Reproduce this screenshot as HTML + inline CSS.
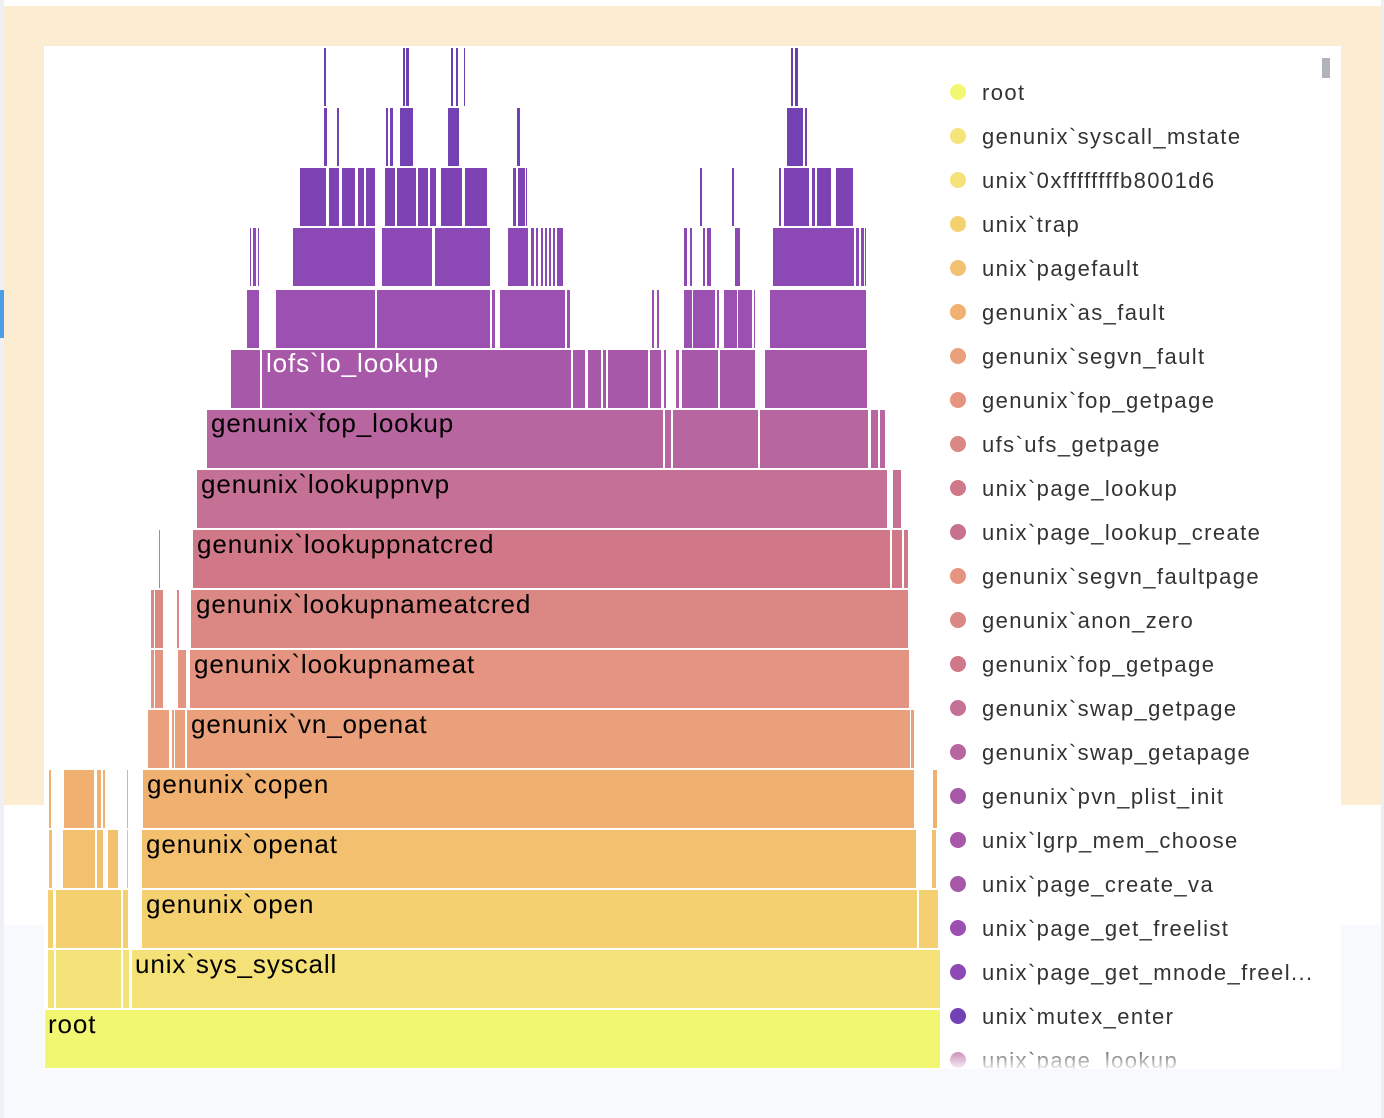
<!DOCTYPE html>
<html><head><meta charset="utf-8"><style>
html,body{margin:0;padding:0;width:1384px;height:1118px;overflow:hidden;background:#f8f9fc;font-family:"Liberation Sans",sans-serif}
</style></head><body>
<svg width="1384" height="1118" xmlns="http://www.w3.org/2000/svg" style="position:absolute;left:0;top:0">
<rect x="0" y="0" width="1384" height="1118" fill="#f8f9fc"/>
<rect x="4" y="0" width="1377" height="925" fill="#ffffff"/>
<rect x="4" y="6" width="1377" height="799" fill="#fcecd2"/>
<rect x="0" y="0" width="4" height="1118" fill="#eef0f6"/>
<rect x="0" y="290" width="4" height="48" fill="#4a9fe8"/>
<rect x="1381" y="0" width="3" height="1118" fill="#eceef2"/>
<rect x="44" y="46" width="1297" height="1023" fill="#ffffff"/>
<g stroke="none">
<g transform="translate(0,1010)" fill="#f2f772"><rect x="45" y="0" width="895" height="58"/></g>
<g transform="translate(0,950)" fill="#f4e177"><rect x="48" width="6" height="58"/><rect x="56" width="65" height="58"/><rect x="123" width="6" height="58"/><rect x="132" width="808" height="58"/></g>
<g transform="translate(0,890)" fill="#f5d070"><rect x="48" width="5" height="58"/><rect x="56" width="65" height="58"/><rect x="123" width="5" height="58"/><rect x="142" width="775" height="58"/><rect x="919" width="19" height="58"/></g>
<g transform="translate(0,830)" fill="#f3c070"><rect x="49" width="3" height="58"/><rect x="63" width="32" height="58"/><rect x="97" width="6" height="58"/><rect x="108" width="10" height="58"/><rect x="127" width="1" height="58"/><rect x="142" width="774" height="58"/><rect x="932" width="4" height="58"/></g>
<g transform="translate(0,770)" fill="#efb070"><rect x="49" width="2" height="58"/><rect x="64" width="30" height="58"/><rect x="97" width="4" height="58"/><rect x="103" width="2" height="58"/><rect x="127" width="1" height="58"/><rect x="143" width="771" height="58"/><rect x="933" width="4" height="58"/></g>
<g transform="translate(0,710)" fill="#eaa07a"><rect x="148" width="21" height="58"/><rect x="172" width="2" height="58"/><rect x="175" width="10" height="58"/><rect x="187" width="723" height="58"/><rect x="911" width="3" height="58"/></g>
<g transform="translate(0,650)" fill="#e49480"><rect x="151" width="3" height="58"/><rect x="155" width="8" height="58"/><rect x="178" width="8" height="58"/><rect x="190" width="719" height="58"/></g>
<g transform="translate(0,590)" fill="#db8885"><rect x="151" width="3" height="58"/><rect x="155" width="8" height="58"/><rect x="177" width="2" height="58"/><rect x="191" width="717" height="58"/></g>
<g transform="translate(0,530)" fill="#d07888"><rect x="159" width="1" height="58"/><rect x="193" width="697" height="58"/><rect x="892" width="10" height="58"/><rect x="904" width="4" height="58"/></g>
<g transform="translate(0,470)" fill="#c57095"><rect x="197" width="690" height="58"/><rect x="893" width="8" height="58"/></g>
<g transform="translate(0,410)" fill="#b866a0"><rect x="207" width="456" height="58"/><rect x="665" width="6" height="58"/><rect x="673" width="85" height="58"/><rect x="760" width="108" height="58"/><rect x="871" width="7" height="58"/><rect x="880" width="5" height="58"/></g>
<g transform="translate(0,350)" fill="#a858a8"><rect x="231" width="29" height="58"/><rect x="262" width="309" height="58"/><rect x="573" width="12" height="58"/><rect x="588" width="13" height="58"/><rect x="603" width="3" height="58"/><rect x="608" width="40" height="58"/><rect x="650" width="11" height="58"/><rect x="664" width="2" height="58"/><rect x="676" width="3" height="58"/><rect x="682" width="36" height="58"/><rect x="720" width="35" height="58"/><rect x="765" width="102" height="58"/></g>
<g transform="translate(0,290)" fill="#9b50b2"><rect x="247" width="12" height="58"/><rect x="276" width="99" height="58"/><rect x="377" width="113" height="58"/><rect x="492" width="3" height="58"/><rect x="500" width="65" height="58"/><rect x="567" width="3" height="58"/><rect x="652" width="2" height="58"/><rect x="657" width="2" height="58"/><rect x="684" width="8" height="58"/><rect x="693" width="22" height="58"/><rect x="717" width="2" height="58"/><rect x="724" width="13" height="58"/><rect x="738" width="14" height="58"/><rect x="754" width="1" height="58"/><rect x="770" width="96" height="58"/></g>
<g transform="translate(0,228)" fill="#8c48b5"><rect x="250" width="1" height="58"/><rect x="253" width="3" height="58"/><rect x="258" width="1" height="58"/><rect x="293" width="82" height="58"/><rect x="382" width="50" height="58"/><rect x="435" width="55" height="58"/><rect x="508" width="20" height="58"/><rect x="531" width="3" height="58"/><rect x="536" width="2" height="58"/><rect x="541" width="2" height="58"/><rect x="545" width="2" height="58"/><rect x="549" width="2" height="58"/><rect x="553" width="2" height="58"/><rect x="557" width="6" height="58"/><rect x="684" width="3" height="58"/><rect x="690" width="2" height="58"/><rect x="703" width="2" height="58"/><rect x="707" width="4" height="58"/><rect x="735" width="5" height="58"/><rect x="773" width="81" height="58"/><rect x="856" width="3" height="58"/><rect x="861" width="3" height="58"/><rect x="865" width="1" height="58"/></g>
<g transform="translate(0,168)" fill="#7e42b5"><rect x="300" width="26" height="58"/><rect x="329" width="10" height="58"/><rect x="342" width="13" height="58"/><rect x="358" width="6" height="58"/><rect x="366" width="9" height="58"/><rect x="385" width="10" height="58"/><rect x="397" width="19" height="58"/><rect x="418" width="10" height="58"/><rect x="430" width="6" height="58"/><rect x="441" width="21" height="58"/><rect x="465" width="22" height="58"/><rect x="513" width="3" height="58"/><rect x="518" width="7" height="58"/><rect x="526" width="1" height="58"/><rect x="700" width="2" height="58"/><rect x="732" width="2" height="58"/><rect x="779" width="2" height="58"/><rect x="784" width="25" height="58"/><rect x="812" width="3" height="58"/><rect x="817" width="14" height="58"/><rect x="836" width="17" height="58"/></g>
<g transform="translate(0,108)" fill="#7242b5"><rect x="324" width="3" height="58"/><rect x="337" width="2" height="58"/><rect x="386" width="2" height="58"/><rect x="390" width="3" height="58"/><rect x="400" width="13" height="58"/><rect x="448" width="11" height="58"/><rect x="517" width="3" height="58"/><rect x="787" width="16" height="58"/><rect x="805" width="2" height="58"/></g>
<g transform="translate(0,48)" fill="#6a40b0"><rect x="324" width="2" height="58"/><rect x="403" width="2" height="58"/><rect x="406" width="3" height="58"/><rect x="451" width="2" height="58"/><rect x="456" width="2" height="58"/><rect x="464" width="1" height="58"/><rect x="791" width="2" height="58"/><rect x="795" width="3" height="58"/></g>
</g>
<g font-family="Liberation Sans, sans-serif" font-size="26" letter-spacing="0.9" fill="#000">
<text x="48" y="1033">root</text>
<text x="135" y="973">unix`sys_syscall</text>
<text x="146" y="913">genunix`open</text>
<text x="146" y="853">genunix`openat</text>
<text x="147" y="793">genunix`copen</text>
<text x="191" y="733">genunix`vn_openat</text>
<text x="194" y="673">genunix`lookupnameat</text>
<text x="196" y="613">genunix`lookupnameatcred</text>
<text x="197" y="553">genunix`lookuppnatcred</text>
<text x="201" y="493">genunix`lookuppnvp</text>
<text x="211" y="432">genunix`fop_lookup</text>
<text x="266" y="372" fill="#ffffff">lofs`lo_lookup</text>
</g>
<defs><linearGradient id="fade" x1="0" y1="0" x2="0" y2="1"><stop offset="0" stop-color="#fff" stop-opacity="0"/><stop offset="1" stop-color="#fff" stop-opacity="0.9"/></linearGradient></defs>
<g font-family="Liberation Sans, sans-serif" font-size="22" letter-spacing="1.4" fill="#333">
<circle cx="958" cy="92" r="8" fill="#f2f772"/><text x="982" y="100">root</text>
<circle cx="958" cy="136" r="8" fill="#f5e479"/><text x="982" y="144">genunix`syscall_mstate</text>
<circle cx="958" cy="180" r="8" fill="#f5e177"/><text x="982" y="188">unix`0xffffffffb8001d6</text>
<circle cx="958" cy="224" r="8" fill="#f5d070"/><text x="982" y="232">unix`trap</text>
<circle cx="958" cy="268" r="8" fill="#f2c070"/><text x="982" y="276">unix`pagefault</text>
<circle cx="958" cy="312" r="8" fill="#efb072"/><text x="982" y="320">genunix`as_fault</text>
<circle cx="958" cy="356" r="8" fill="#eaa07a"/><text x="982" y="364">genunix`segvn_fault</text>
<circle cx="958" cy="400" r="8" fill="#e49480"/><text x="982" y="408">genunix`fop_getpage</text>
<circle cx="958" cy="444" r="8" fill="#db8885"/><text x="982" y="452">ufs`ufs_getpage</text>
<circle cx="958" cy="488" r="8" fill="#d07888"/><text x="982" y="496">unix`page_lookup</text>
<circle cx="958" cy="532" r="8" fill="#c87090"/><text x="982" y="540">unix`page_lookup_create</text>
<circle cx="958" cy="576" r="8" fill="#e49480"/><text x="982" y="584">genunix`segvn_faultpage</text>
<circle cx="958" cy="620" r="8" fill="#db8885"/><text x="982" y="628">genunix`anon_zero</text>
<circle cx="958" cy="664" r="8" fill="#d07888"/><text x="982" y="672">genunix`fop_getpage</text>
<circle cx="958" cy="708" r="8" fill="#c57095"/><text x="982" y="716">genunix`swap_getpage</text>
<circle cx="958" cy="752" r="8" fill="#b866a0"/><text x="982" y="760">genunix`swap_getapage</text>
<circle cx="958" cy="796" r="8" fill="#a858a8"/><text x="982" y="804">genunix`pvn_plist_init</text>
<circle cx="958" cy="840" r="8" fill="#a858a8"/><text x="982" y="848">unix`lgrp_mem_choose</text>
<circle cx="958" cy="884" r="8" fill="#a858a8"/><text x="982" y="892">unix`page_create_va</text>
<circle cx="958" cy="928" r="8" fill="#9b50b2"/><text x="982" y="936">unix`page_get_freelist</text>
<circle cx="958" cy="972" r="8" fill="#8c48b5"/><text x="982" y="980">unix`page_get_mnode_freel...</text>
<circle cx="958" cy="1016" r="8" fill="#7440b5"/><text x="982" y="1024">unix`mutex_enter</text>
<circle cx="958" cy="1060" r="8" fill="#b866a0"/><text x="982" y="1068">unix`page_lookup</text>
</g>
<rect x="940" y="1044" width="400" height="25" fill="url(#fade)"/>
<rect x="44" y="1069" width="1297" height="49" fill="#f8f9fc"/>
<rect x="1322" y="58" width="8" height="20" fill="#b0b3b8"/>
</svg>
</body></html>
